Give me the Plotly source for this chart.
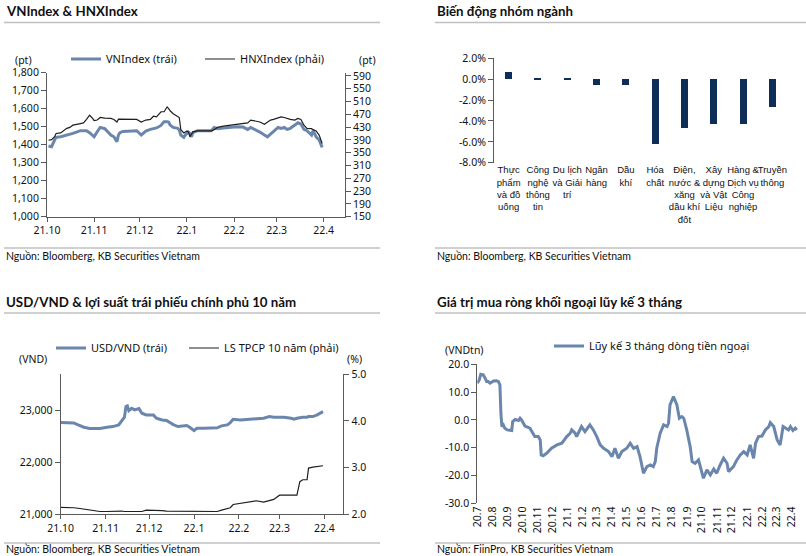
import plotly.graph_objects as go

W, H = 806, 556

# ---------------- Panel 1: VNIndex & HNXIndex ----------------
idx_dates = ["2021-10-02","2021-10-04","2021-10-06","2021-10-07","2021-10-10","2021-10-12","2021-10-14","2021-10-16",
             "2021-10-18","2021-10-23","2021-10-25","2021-10-27","2021-10-29","2021-10-31","2021-11-01","2021-11-03",
             "2021-11-05","2021-11-08","2021-11-12","2021-11-14","2021-11-16","2021-11-17","2021-11-18","2021-11-20",
             "2021-11-25","2021-11-29","2021-12-02","2021-12-05","2021-12-08","2021-12-10","2021-12-12","2021-12-15",
             "2021-12-17","2021-12-19","2021-12-20","2021-12-21","2021-12-23","2021-12-26","2021-12-27","2021-12-28",
             "2021-12-30","2021-12-31","2022-01-01","2022-01-02","2022-01-03","2022-01-04","2022-01-05","2022-01-08",
             "2022-01-12","2022-01-17","2022-01-19","2022-01-21","2022-01-25","2022-01-30","2022-02-03","2022-02-07",
             "2022-02-10","2022-02-12","2022-02-15","2022-02-18","2022-02-21","2022-02-23","2022-02-25","2022-02-27",
             "2022-03-02","2022-03-04","2022-03-06","2022-03-08","2022-03-10","2022-03-13","2022-03-15","2022-03-17",
             "2022-03-19","2022-03-21","2022-03-24","2022-03-25","2022-03-26","2022-03-27","2022-03-29","2022-03-30",
             "2022-03-31"]
vnindex = [1393,1389,1426,1441,1444,1448,1452,1456,
           1463,1478,1476,1478,1467,1452,1444,1472,
           1496,1489,1454,1444,1417,1454,1467,1474,
           1478,1478,1454,1476,1485,1489,1493,1507,
           1528,1528,1526,1509,1496,1491,1481,1454,
           1441,1454,1463,1470,1463,1444,1467,1478,
           1478,1478,1496,1489,1493,1496,1500,1498,
           1485,1496,1485,1470,1454,1444,1459,1472,
           1496,1491,1496,1485,1491,1509,1522,1515,
           1485,1478,1454,1478,1463,1444,1426,1404,
           1385]
hnxindex = [389,391,400,410,412,418,426,429,
            436,441,443,454,467,457,450,452,
            460,458,457,454,446,455,455,454,
            455,454,446,452,454,464,462,478,
            478,493,488,481,472,462,460,422,
            412,415,418,415,400,408,415,418,
            418,418,422,429,433,436,439,441,
            443,452,450,446,439,446,452,454,
            460,462,460,457,454,452,457,454,
            436,426,425,422,420,418,405,391,
            379]
p1_ticks = ["2021-10-01","2021-11-01","2021-12-01","2022-01-01","2022-02-01","2022-03-01","2022-04-01"]
p1_labels = ["21.10","21.11","21.12","22.1","22.2","22.3","22.4"]

# ---------------- Panel 2: Biến động nhóm ngành ----------------
sectors = ["Thực<br>phẩm<br>và đồ<br>uống", "Công<br>nghệ<br>thông<br>tin", "Du lịch<br>và Giải<br>trí",
           "Ngân<br>hàng", "Dầu<br>khí", "Hóa<br>chất", "Điện,<br>nước &<br>xăng<br>dầu khí<br>đốt",
           "Xây<br>dựng<br>và Vật<br>Liệu", "Hàng &<br>Dịch vụ<br>Công<br>nghiệp", "Truyền<br>thông"]
sector_chg = [0.63, -0.03, -0.03, -0.57, -0.57, -6.2, -4.7, -4.35, -4.35, -2.65]
p2_ticks = [2, 0, -2, -4, -6, -8]
p2_labels = ["2.0%", "0.0%", "-2.0%", "-4.0%", "-6.0%", "-8.0%"]

# ---------------- Panel 3: USD/VND & 10Y yield ----------------
fx_dates = ["2021-10-01","2021-10-05","2021-10-10","2021-10-13","2021-10-17","2021-10-21","2021-10-26","2021-10-28",
            "2021-11-02","2021-11-06","2021-11-10","2021-11-12","2021-11-14","2021-11-15","2021-11-16","2021-11-17",
            "2021-11-19","2021-11-21","2021-11-24","2021-11-26","2021-11-29","2021-12-04","2021-12-06","2021-12-10",
            "2021-12-13","2021-12-18","2021-12-21","2021-12-27","2021-12-29","2022-01-01","2022-01-03","2022-01-08",
            "2022-01-17","2022-01-20","2022-01-24","2022-01-26","2022-01-28","2022-02-02","2022-02-09","2022-02-13",
            "2022-02-18","2022-02-22","2022-02-25","2022-03-01","2022-03-04","2022-03-09","2022-03-11","2022-03-13",
            "2022-03-15","2022-03-17","2022-03-20","2022-03-21","2022-03-24","2022-03-27","2022-03-31"]
usdvnd = [22770,22770,22763,22724,22680,22654,22647,22654,
          22680,22692,22724,22808,22872,23077,23090,23000,
          23045,23013,23038,22949,22917,22917,22853,22820,
          22808,22724,22692,22712,22680,22615,22660,22660,
          22667,22705,22724,22769,22833,22821,22833,22846,
          22853,22885,22872,22872,22872,22853,22833,22853,
          22865,22872,22872,22885,22885,22917,22981]
yield10 = [2.15,2.15,2.14,2.13,2.11,2.09,2.06,2.06,
           2.06,2.07,2.07,2.07,2.06,2.06,2.06,2.06,
           2.06,2.06,2.06,2.06,2.09,2.09,2.08,2.08,
           2.07,2.07,2.06,2.06,2.06,2.06,2.06,2.06,
           2.06,2.09,2.12,2.14,2.21,2.24,2.27,2.29,
           2.26,2.29,2.32,2.41,2.41,2.41,2.41,2.41,
           2.70,2.74,2.74,2.99,3.01,3.02,3.04]

# ---------------- Panel 4: foreign net buying (3M cumulative) ----------------
flow_dates = ["2020-07-01","2020-07-05","2020-07-08","2020-07-13","2020-07-17","2020-07-20","2020-07-23","2020-07-27",
              "2020-08-03","2020-08-09","2020-08-13","2020-08-16","2020-08-18","2020-08-20","2020-08-23","2020-08-26",
              "2020-08-31","2020-09-09","2020-09-11","2020-09-16","2020-09-23","2020-09-26","2020-09-29","2020-10-06",
              "2020-10-16","2020-10-26","2020-11-02","2020-11-06","2020-11-08","2020-11-12","2020-11-19","2020-11-29",
              "2020-12-10","2020-12-20","2020-12-30","2021-01-06","2021-01-09","2021-01-16","2021-01-19","2021-01-29",
              "2021-02-05","2021-02-12","2021-02-15","2021-02-22","2021-03-01","2021-03-08","2021-03-15","2021-03-25",
              "2021-04-01","2021-04-07","2021-04-14","2021-04-21","2021-05-01","2021-05-08","2021-05-15","2021-05-22",
              "2021-05-28","2021-06-04","2021-06-11","2021-06-18","2021-06-24","2021-06-28","2021-07-01","2021-07-08",
              "2021-07-15","2021-07-22","2021-07-25","2021-07-28","2021-08-04","2021-08-11","2021-08-16","2021-08-21",
              "2021-08-25","2021-08-31","2021-09-07","2021-09-11","2021-09-17","2021-09-24","2021-10-01","2021-10-04",
              "2021-10-11","2021-10-18","2021-10-25","2021-10-31","2021-11-07","2021-11-14","2021-11-21","2021-11-24",
              "2021-12-04","2021-12-11","2021-12-18","2021-12-25","2022-01-01","2022-01-07","2022-01-14","2022-01-18",
              "2022-01-24","2022-01-31","2022-02-07","2022-02-14","2022-02-17","2022-02-24","2022-03-03","2022-03-09",
              "2022-03-15","2022-03-20","2022-03-26","2022-03-30","2022-04-04","2022-04-09","2022-04-12"]
flow_3m = [13.2,14.4,16.4,16.2,15.0,13.8,13.8,13.2,
           14.0,14.1,13.8,12.6,2.4,-2.4,-1.8,-3.0,
           -3.6,-3.8,-0.6,0.2,-0.2,0.6,0.0,-2.2,
           -3.0,-6.0,-6.0,-7.2,-12.6,-12.9,-12.0,-10.2,
           -9.0,-8.4,-6.0,-4.8,-3.6,-4.8,-6.0,-2.4,
           -4.2,-2.4,-1.8,-3.6,-6.0,-9.0,-10.2,-11.4,
           -13.2,-10.2,-13.8,-11.4,-10.2,-8.4,-10.2,-9.6,
           -13.2,-19.2,-16.8,-16.2,-16.8,-15.0,-10.2,-4.8,
           -1.8,-2.4,-1.2,5.4,8.4,5.4,0.6,1.2,
           0.6,-3.6,-9.6,-15.0,-15.6,-14.4,-19.2,-21.0,
           -18.0,-19.8,-17.7,-19.2,-16.2,-13.8,-15.6,-18.6,
           -16.8,-14.4,-12.6,-11.4,-12.6,-9.0,-13.8,-8.4,
           -6.0,-5.8,-3.6,-2.4,-1.0,-2.4,-7.2,-9.0,
           -2.4,-3.0,-3.6,-2.4,-3.8,-3.0,-3.6]
p4_ticks = ["2020-07-01","2020-08-01","2020-09-01","2020-10-01","2020-11-01","2020-12-01","2021-01-01","2021-02-01",
            "2021-03-01","2021-04-01","2021-05-01","2021-06-01","2021-07-01","2021-08-01","2021-09-01","2021-10-01",
            "2021-11-01","2021-12-01","2022-01-01","2022-02-01","2022-03-01","2022-04-01"]
p4_labels = ["20.7","20.8","20.9","20.10","20.11","20.12","21.1","21.2","21.3","21.4","21.5","21.6",
             "21.7","21.8","21.9","21.10","21.11","21.12","22.1","22.2","22.3","22.4"]
p4_yticks = [20, 10, 0, -10, -20, -30]
p4_ylabels = ["20.0", "10.0", "0.0", "-10.0", "-20.0", "-30.0"]

# ---------------- styling ----------------
BLUE = "#6B86AC"
DARK = "#1E1E1E"
NAVY = "#0F2E57"
AX = "#5A5A5A"
RULE = "#C0C0C0"
TICKF = dict(family="Noto Sans, Liberation Sans, sans-serif", size=10.5, color="#111")
TXTF = "Lato, Noto Sans, sans-serif"


def px_x(p):
    return p / W


def px_y(p):
    return 1 - p / H


d1x = [px_x(47), px_x(345)];   d1y = [px_y(216.7), px_y(72.7)]
d2x = [px_x(494), px_x(787)];  d2y = [px_y(162.7), px_y(58.3)]
d3x = [px_x(60.7), px_x(343.3)]; d3y = [px_y(514.3), px_y(374.3)]
d4x = [px_x(477.3), px_x(799.3)]; d4y = [px_y(503.3), px_y(364.3)]

fig = go.Figure()

# Panel 1
fig.add_trace(go.Scatter(x=idx_dates, y=vnindex, name="VNIndex (trái)", mode="lines",
                         line=dict(color=BLUE, width=3), xaxis="x", yaxis="y", legend="legend"))
fig.add_trace(go.Scatter(x=idx_dates, y=hnxindex, name="HNXIndex (phải)", mode="lines",
                         line=dict(color=DARK, width=1.2), xaxis="x", yaxis="y2", legend="legend4"))
# Panel 2
fig.add_trace(go.Bar(x=list(range(len(sectors))), y=sector_chg, marker=dict(color=NAVY, line=dict(width=0)),
                     width=0.24, showlegend=False, xaxis="x2", yaxis="y3"))
# Panel 3
fig.add_trace(go.Scatter(x=fx_dates, y=usdvnd, name="USD/VND (trái)", mode="lines",
                         line=dict(color=BLUE, width=3), xaxis="x4", yaxis="y4", legend="legend2"))
fig.add_trace(go.Scatter(x=fx_dates, y=yield10, name="LS TPCP 10 năm (phải)", mode="lines",
                         line=dict(color=DARK, width=1.2), xaxis="x4", yaxis="y5", legend="legend5"))
# Panel 4
fig.add_trace(go.Scatter(x=flow_dates, y=flow_3m, name="Lũy kế 3 tháng dòng tiền ngoại", mode="lines",
                         line=dict(color=BLUE, width=3), xaxis="x5", yaxis="y6", legend="legend3"))

common_ax = dict(showgrid=False, zeroline=False, linecolor=AX, linewidth=1, tickcolor=AX,
                 tickfont=TICKF, fixedrange=True)

n_sec = len(sectors)
zero2 = d2y[0] + (0 - (-8)) / 10 * (d2y[1] - d2y[0])
zero4 = d4y[0] + (0 - (-30)) / 50 * (d4y[1] - d4y[0])


def leg(x, y):
    return dict(orientation="h", x=px_x(x), y=px_y(y), xanchor="left", yanchor="middle",
                font=dict(size=11), bgcolor="rgba(0,0,0,0)")


fig.update_layout(
    width=W, height=H, margin=dict(l=0, r=0, t=0, b=0, autoexpand=False),
    paper_bgcolor="white", plot_bgcolor="rgba(0,0,0,0)",
    font=dict(family=TICKF["family"], size=10.5, color="#111"),
    bargap=0,
    # panel 1
    xaxis=dict(domain=d1x, anchor="y", type="date", range=["2021-10-01", "2022-04-15"],
               tickvals=p1_ticks, ticktext=p1_labels, showline=True, ticks="outside", ticklen=4, **common_ax),
    yaxis=dict(domain=d1y, anchor="x", range=[1000, 1800], tickvals=list(range(1000, 1801, 100)),
               tickformat=",d", showline=True, ticks="outside", ticklen=5, **common_ax),
    yaxis2=dict(overlaying="y", anchor="x", side="right", range=[150, 600], tickvals=list(range(150, 600, 40)),
                showline=True, ticks="outside", ticklen=5, **common_ax),
    # panel 2
    xaxis2=dict(domain=d2x, anchor="y3", range=[-0.5, n_sec - 0.5], tickvals=list(range(n_sec)), ticktext=sectors,
                tickangle=0, showline=False, ticks="", showgrid=False, zeroline=False, fixedrange=True,
                tickfont=dict(family="Liberation Sans, Noto Sans, sans-serif", size=9.5, color="#111")),
    yaxis3=dict(domain=d2y, anchor="x2", range=[-8, 2], tickvals=p2_ticks, ticktext=p2_labels,
                showline=True, ticks="outside", ticklen=5, **common_ax),
    xaxis3=dict(overlaying="x2", anchor="free", position=zero2, range=[-0.5, n_sec - 0.5],
                tickvals=[i + 0.5 for i in range(n_sec)], showticklabels=False,
                showline=True, ticks="inside", ticklen=4, **common_ax),
    # panel 3
    xaxis4=dict(domain=d3x, anchor="y4", type="date", range=["2021-10-01", "2022-04-14"],
                tickvals=p1_ticks, ticktext=p1_labels, showline=True, ticks="outside", ticklen=4, **common_ax),
    yaxis4=dict(domain=d3y, anchor="x4", range=[21000, 23700], tickvals=[21000, 22000, 23000],
                tickformat=",d", showline=True, ticks="outside", ticklen=5, **common_ax),
    yaxis5=dict(overlaying="y4", anchor="x4", side="right", range=[2, 5], tickvals=[2, 3, 4, 5],
                tickformat=".1f", showline=True, ticks="outside", ticklen=5, **common_ax),
    # panel 4
    xaxis5=dict(domain=d4x, anchor="y6", type="date", range=["2020-07-01", "2022-04-17"],
                tickvals=p4_ticks, ticktext=p4_labels, tickangle=-90, showline=False, ticks="", **common_ax),
    yaxis6=dict(domain=d4y, anchor="x5", range=[-30, 20], tickvals=p4_yticks, ticktext=p4_ylabels,
                showline=True, ticks="outside", ticklen=5, **common_ax),
    xaxis6=dict(overlaying="x5", anchor="free", position=zero4, type="date", range=["2020-07-01", "2022-04-17"],
                tickvals=p4_ticks, showticklabels=False, showline=True, ticks="inside", ticklen=4, **common_ax),
    legend=leg(66, 59),
    legend4=leg(200, 59),
    legend2=leg(51, 348),
    legend5=leg(184, 348),
    legend3=leg(549, 346),
)

# titles, units, sources
ann = []
def text(x, y, s, size=11, bold=False, fam=None, anchor="left"):
    ann.append(dict(x=px_x(x), y=px_y(y), xref="paper", yref="paper", text=(f"<b>{s}</b>" if bold else s),
                    showarrow=False, xanchor=anchor, yanchor="middle",
                    font=dict(family=fam or TXTF, size=size, color="#111")))

text(4, 11, "VNIndex & HNXIndex", 13.3, True)
text(435, 11, "Biến động nhóm ngành", 13.3, True)
text(4, 302, "USD/VND & lợi suất trái phiếu chính phủ 10 năm", 13.3, True)
text(435, 302, "Giá trị mua ròng khối ngoại lũy kế 3 tháng", 13.3, True)
text(4, 256, "Nguồn: Bloomberg, KB Securities Vietnam", 10.5)
text(435, 256, "Nguồn: Bloomberg, KB Securities Vietnam", 10.5)
text(4, 549, "Nguồn: Bloomberg, KB Securities Vietnam", 10.5)
text(435, 549, "Nguồn: FiinPro, KB Securities Vietnam", 10.5)
text(13, 60, "(pt)", 10.5, fam=TICKF["family"])
text(357, 60, "(pt)", 10.5, fam=TICKF["family"])
text(17, 359, "(VND)", 10.5, fam=TICKF["family"])
text(345, 359, "(%)", 10.5, fam=TICKF["family"])
text(443, 350, "(VNDtn)", 10.5, fam=TICKF["family"])
fig.update_layout(annotations=ann)

shapes = []
for (x0, x1, y) in [(4, 380, 22.5), (435, 806, 22.5), (4, 380, 248), (435, 806, 248),
                    (4, 380, 313), (435, 806, 313), (4, 380, 543), (435, 806, 543)]:
    shapes.append(dict(type="line", xref="paper", yref="paper", x0=px_x(x0), x1=px_x(x1), y0=px_y(y), y1=px_y(y),
                       line=dict(color=RULE, width=1.3)))
fig.update_layout(shapes=shapes)

fig.write_html("out.html", post_script="document.body.style.margin='0';document.body.style.overflow='hidden';")
